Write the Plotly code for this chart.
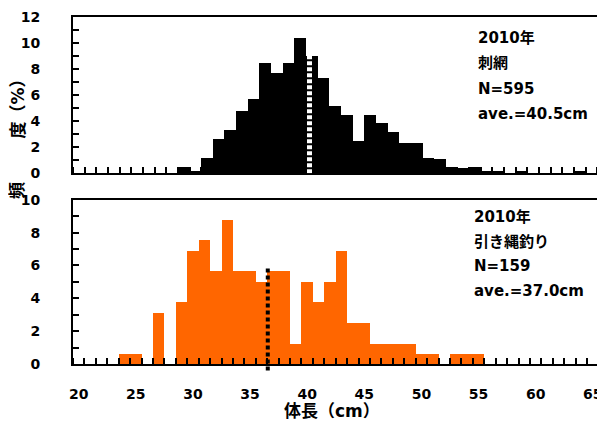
import plotly.graph_objects as go

# ---- data ----
length_cm = list(range(20, 66))  # 体長 categories (1 cm bins)

# 刺網 2010 (%), N=595
gillnet_pct = [0, 0, 0, 0, 0, 0, 0, 0, 0, 0.5,
               0.2, 1.2, 2.6, 3.3, 4.8, 5.7, 8.5, 7.7, 8.5, 10.4,
               9.0, 7.3, 5.2, 4.5, 2.5, 4.5, 3.9, 3.2, 2.3, 2.3,
               1.2, 1.1, 0.5, 0.4, 0.5, 0.17, 0.17, 0, 0.17, 0,
               0, 0, 0, 0.17, 0, 0]

# 引き縄釣り 2010 (%), N=159
troll_pct = [0, 0, 0, 0, 0.63, 0.63, 0, 3.14, 0, 3.77,
             6.92, 7.55, 5.66, 8.81, 5.66, 5.66, 5.03, 5.66, 5.66, 1.26,
             5.03, 3.77, 5.03, 6.92, 2.52, 2.52, 1.26, 1.26, 1.26, 1.26,
             0.63, 0.63, 0, 0.63, 0.63, 0.63, 0, 0, 0, 0,
             0, 0, 0, 0, 0, 0]

gillnet_mean_x = 39.8   # mean-line position on top axis
gillnet_mean_top = 9.0
troll_mean_x = 36.55    # mean-line position on bottom axis
troll_mean_top = 5.83
troll_mean_bottom = -0.4

top_text = ["2010年", "刺網", "N=595", "ave.=40.5cm"]
bot_text = ["2010年", "引き縄釣り", "N=159", "ave.=37.0cm"]

Y1_MAX = 12
Y2_MAX = 10

FONT = "DejaVu Sans, Noto Sans CJK JP, sans-serif"

fig = go.Figure()
fig.add_trace(go.Bar(x=length_cm, y=gillnet_pct, width=1, marker=dict(color="black", line=dict(width=0)),
                     xaxis="x", yaxis="y", showlegend=False))
fig.add_trace(go.Bar(x=length_cm, y=troll_pct, width=1, marker=dict(color="#FF6600", line=dict(width=0)),
                     xaxis="x2", yaxis="y2", showlegend=False))

OFF = 8  # page body margin
W, H = 605 - OFF, 425 - OFF
L, R, T = 73 - OFF, 0, 17 - OFF
B = H - (364 - OFF)
pw, ph = W - L - R, H - T - B

def px(xp):
    return (xp - OFF - L) / pw

def py(yp):
    return (H - B - (yp - OFF)) / ph

tick_font = dict(family=FONT, size=14, color="black", weight="bold")
minor_x = dict(ticks="inside", ticklen=6, tickwidth=2, tickcolor="black", tick0=0.5, dtick=1)
minor_y = dict(ticks="inside", ticklen=6, tickwidth=2, tickcolor="black", tick0=0, dtick=1)

top_px_per = 11.65
top_dom0 = py(173.3)
bot_dom1 = py(199.8)
bot_right = px(598.5)

fig.update_layout(
    width=W, height=H,
    margin=dict(l=L, r=R, t=T, b=B, autoexpand=False),
    paper_bgcolor="white", plot_bgcolor="white",
    bargap=0,
    showlegend=False,
    xaxis=dict(domain=[0, 1], range=[19.5, 19.5 + pw / top_px_per], anchor="y", automargin=False,
               showline=True, linecolor="black", linewidth=2, mirror=True,
               showgrid=False, zeroline=False, showticklabels=False,
               ticks="", tick0=0, dtick=5, minor=minor_x),
    yaxis=dict(domain=[top_dom0, 1], range=[0, Y1_MAX], anchor="x", automargin=False,
               showline=True, linecolor="black", linewidth=2, mirror=False,
               showgrid=False, zeroline=False,
               tick0=0, dtick=2, ticks="inside", ticklen=6, tickwidth=2, tickcolor="black",
               minor=minor_y, tickfont=tick_font, ticklabelstandoff=28),
    xaxis2=dict(domain=[0, bot_right], range=[19.5, 65.5], anchor="y2", automargin=False,
                showline=True, linecolor="black", linewidth=2, mirror=True,
                showgrid=False, zeroline=False,
                ticks="", tick0=0, dtick=5, minor=minor_x,
                tickfont=tick_font, ticklabelstandoff=16),
    yaxis2=dict(domain=[0, bot_dom1], range=[0, Y2_MAX], anchor="x2", automargin=False,
                showline=True, linecolor="black", linewidth=2, mirror=True,
                showgrid=False, zeroline=False,
                tick0=0, dtick=2, ticks="inside", ticklen=6, tickwidth=2, tickcolor="black",
                minor=minor_y, tickfont=tick_font, ticklabelstandoff=28),
)

# mean lines
fig.add_shape(type="line", xref="x", yref="y", x0=gillnet_mean_x, x1=gillnet_mean_x,
              y0=0, y1=gillnet_mean_top, line=dict(color="white", width=5, dash="4px,2px"))
fig.add_shape(type="line", xref="x2", yref="y2 domain", x0=troll_mean_x, x1=troll_mean_x,
              y0=troll_mean_bottom / Y2_MAX, y1=troll_mean_top / Y2_MAX,
              line=dict(color="black", width=4, dash="4px,3px"))

ann_font = dict(family=FONT, size=15, color="black")
for txt, yc in zip(top_text, [38.3, 63, 89, 114]):
    fig.add_annotation(text="<b>" + txt + "</b>", xref="paper", yref="paper", x=px(476), y=py(yc),
                       xanchor="left", yanchor="middle", showarrow=False, font=ann_font)
for txt, yc in zip(bot_text, [217, 242, 266, 291]):
    fig.add_annotation(text="<b>" + txt + "</b>", xref="paper", yref="paper", x=px(472), y=py(yc),
                       xanchor="left", yanchor="middle", showarrow=False, font=ann_font)

title_font = dict(family=FONT, size=17, color="black")
fig.add_annotation(text="<b>体長（cm）</b>", xref="paper", yref="paper", x=px(332), y=py(411),
                   xanchor="center", yanchor="middle", showarrow=False, font=title_font)
fig.add_annotation(text="<b>頻</b>", xref="paper", yref="paper", x=px(17), y=py(191),
                   xanchor="center", yanchor="middle", showarrow=False, textangle=-90, font=title_font)
fig.add_annotation(text="<b>度（%）</b>", xref="paper", yref="paper", x=px(17.5), y=py(105),
                   xanchor="center", yanchor="middle", showarrow=False, textangle=-90, font=title_font)

fig.write_html("out.html")
